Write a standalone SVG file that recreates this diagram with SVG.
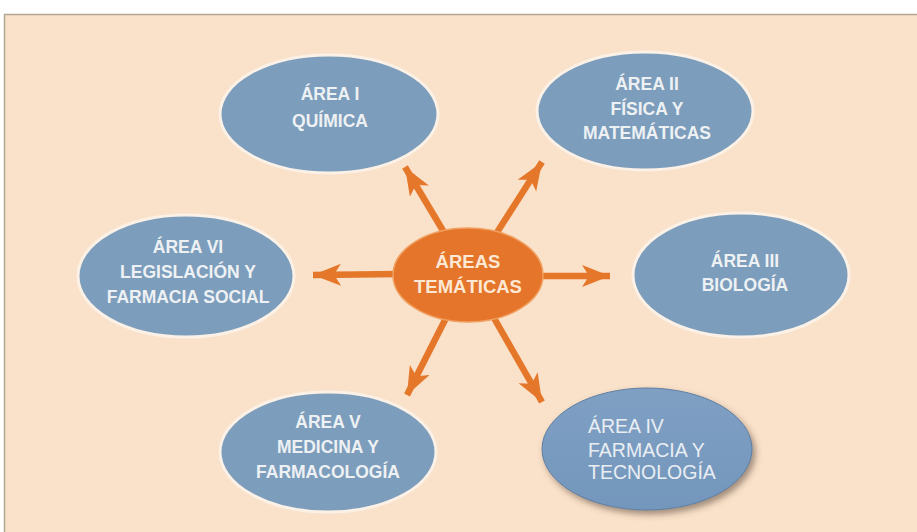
<svg xmlns="http://www.w3.org/2000/svg" width="917" height="532" viewBox="0 0 917 532">
<style>
.bg{fill:#FAE1C9}
.area{fill:#7C9DBB;stroke:#FBF1E6;stroke-width:3}
.lbl{font-family:"Liberation Sans",Arial,sans-serif;font-weight:bold;font-size:17.5px;fill:#EEF1F4;text-anchor:middle}
.lbl4{font-family:"Liberation Sans",Arial,sans-serif;font-size:19.5px;fill:#E9EEF3}
.ctr{fill:#E5752A;stroke:#F0A060;stroke-width:1.5}
.ctrt{font-family:"Liberation Sans",Arial,sans-serif;font-weight:bold;font-size:18.5px;fill:#FCE8D4;text-anchor:middle}
.arr{stroke:#E5772A;stroke-width:6.5;fill:none;marker-end:url(#ah)}
</style>
<defs>
<marker id="ah" markerUnits="userSpaceOnUse" markerWidth="30" markerHeight="24" refX="28" refY="11" orient="auto">
<path d="M0,0 L28,11 L0,22 L7,11 Z" fill="#E5772A"/>
</marker>
<filter id="sh" x="-20%" y="-20%" width="150%" height="150%">
<feDropShadow dx="3" dy="4" stdDeviation="3" flood-color="#5A4A3A" flood-opacity="0.55"/>
</filter>
<linearGradient id="g4" x1="0" y1="0" x2="0" y2="1">
<stop offset="0" stop-color="#7FA0C3"/>
<stop offset="1" stop-color="#7396BC"/>
</linearGradient>
</defs>
<rect x="0" y="0" width="917" height="532" fill="#FFFFFF"/>
<rect class="bg" x="4" y="14" width="913" height="518"/>
<path d="M4.5,532 L4.5,14.5 L917,14.5" fill="none" stroke="#B3A797" stroke-width="1.5"/>

<g id="connectors">
<line class="arr" x1="400" y1="274" x2="313" y2="275"/>
<line class="arr" x1="536" y1="276" x2="610" y2="276"/>
<line class="arr" x1="445" y1="234" x2="405" y2="167"/>
<line class="arr" x1="496" y1="234" x2="542" y2="162"/>
<line class="arr" x1="446" y1="318" x2="407" y2="395"/>
<line class="arr" x1="494" y1="318" x2="542" y2="402"/>
</g>

<g id="center">
<ellipse class="ctr" cx="468" cy="275" rx="75" ry="47"/>
<text class="ctrt" x="468" y="268">ÁREAS</text>
<text class="ctrt" x="468" y="293">TEMÁTICAS</text>
</g>

<g id="area1">
<ellipse class="area" cx="329" cy="114" rx="109" ry="59"/>
<text class="lbl" x="330" y="100">ÁREA I</text>
<text class="lbl" x="330" y="127">QUÍMICA</text>
</g>

<g id="area2">
<ellipse class="area" cx="645" cy="111" rx="108" ry="59"/>
<text class="lbl" x="647" y="90">ÁREA II</text>
<text class="lbl" x="647" y="115">FÍSICA Y</text>
<text class="lbl" x="647" y="139">MATEMÁTICAS</text>
</g>

<g id="area3">
<ellipse class="area" cx="741" cy="275" rx="108" ry="62"/>
<text class="lbl" x="745" y="267">ÁREA III</text>
<text class="lbl" x="745" y="291">BIOLOGÍA</text>
</g>

<g id="area4">
<ellipse cx="647" cy="449" rx="105" ry="61" fill="url(#g4)" stroke="#5F7FA3" stroke-width="1" filter="url(#sh)"/>
<text class="lbl4" x="588" y="433">ÁREA IV</text>
<text class="lbl4" x="588" y="457">FARMACIA Y</text>
<text class="lbl4" x="588" y="479">TECNOLOGÍA</text>
</g>

<g id="area5">
<ellipse class="area" cx="328" cy="452" rx="108" ry="60"/>
<text class="lbl" x="328" y="428">ÁREA V</text>
<text class="lbl" x="328" y="453">MEDICINA Y</text>
<text class="lbl" x="328" y="478">FARMACOLOGÍA</text>
</g>

<g id="area6">
<ellipse class="area" cx="186" cy="276" rx="108" ry="61"/>
<text class="lbl" x="188" y="253">ÁREA VI</text>
<text class="lbl" x="188" y="278">LEGISLACIÓN Y</text>
<text class="lbl" x="188" y="303">FARMACIA SOCIAL</text>
</g>
</svg>
